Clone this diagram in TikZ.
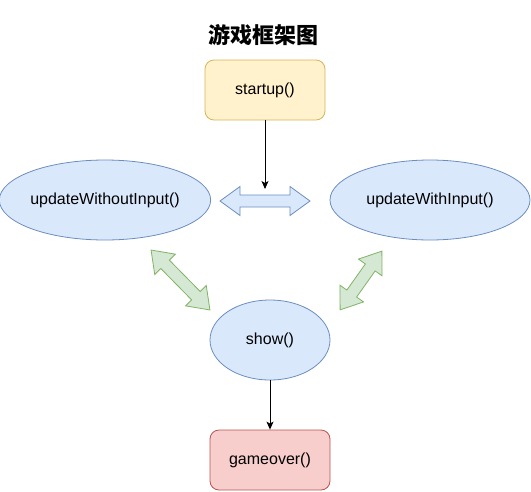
\documentclass[tikz,border=0pt]{standalone}
\usepackage{fontspec}
\setmainfont{Liberation Sans}
\newfontfamily\cjk{Noto Sans CJK SC}
\usetikzlibrary{arrows.meta, shapes.geometric}
\definecolor{azul}{HTML}{DAE8FC}
\definecolor{azulBorda}{HTML}{6C8EBF}
\definecolor{amarelo}{HTML}{FFF2CC}
\definecolor{amareloBorda}{HTML}{D6B656}
\definecolor{vermelho}{HTML}{F8CECC}
\definecolor{vermelhoBorda}{HTML}{B85450}
\definecolor{verde}{HTML}{D5E8D4}
\definecolor{verdeBorda}{HTML}{82B366}

% seta larga de duas pontas: {centro}{angulo}{meio comprimento}{estilo}
\newcommand{\setaLarga}[4]{%
  \begin{scope}[shift={#1}, rotate=#2]
    \draw[#4] (-#3,0) -- (-#3+20,-14.5) -- (-#3+20,-6) -- (#3-20,-6)
      -- (#3-20,-14.5) -- (#3,0) -- (#3-20,14.5) -- (#3-20,6)
      -- (-#3+20,6) -- (-#3+20,14.5) -- cycle;
  \end{scope}%
}

\begin{document}
\begin{tikzpicture}[
    x=1pt, y=-1pt,
    caixa/.style={
        draw,
        line width=0.8pt,
        rounded corners=9pt,
        minimum width=120pt,
        minimum height=60pt,
        align=center,
        font=\fontsize{16}{19}\selectfont
    },
    elipse/.style={
        ellipse,
        draw=azulBorda,
        fill=azul,
        line width=0.8pt,
        minimum height=80pt,
        inner sep=0pt,
        font=\fontsize{16}{19}\selectfont
    },
    largaAzul/.style={draw=azulBorda, fill=azul, line width=0.8pt, line join=miter},
    largaVerde/.style={draw=verdeBorda, fill=verde, line width=0.8pt, line join=miter},
    seta/.style={
        -{Stealth[length=8pt, width=7pt, inset=2pt]},
        line width=0.9pt
    }
]
\useasboundingbox (0,0) rectangle (531,491);

% =================================================
% TITULO E INICIO
% =================================================

\node[font=\cjk\bfseries\fontsize{22}{26}\selectfont] (titulo) at (263,35)
{游戏框架图};

\node[caixa, draw=amareloBorda, fill=amarelo] (startup) at (265,90)
{startup()};

% =================================================
% ATUALIZACAO
% =================================================

\node[elipse, minimum width=210pt] (semInput) at (105,200)
{updateWithoutInput()};

\node[elipse, minimum width=200pt] (comInput) at (430,200)
{updateWithInput()};

\setaLarga{(265,201)}{0}{45}{largaAzul}

\coordinate (fimStart) at (265,189);

\draw[seta] (startup.south) -- (fimStart);

% =================================================
% EXIBICAO E FIM
% =================================================

\node[elipse, minimum width=120pt] (show) at (270,340)
{show()};

\setaLarga{(180.5,280)}{-45.5}{42}{largaVerde}

\setaLarga{(361,280.5)}{54.6}{36}{largaVerde}

\node[caixa, draw=vermelhoBorda, fill=vermelho] (gameover) at (270,460)
{gameover()};

\draw[seta] (show) -- (gameover);

\end{tikzpicture}
\end{document}
